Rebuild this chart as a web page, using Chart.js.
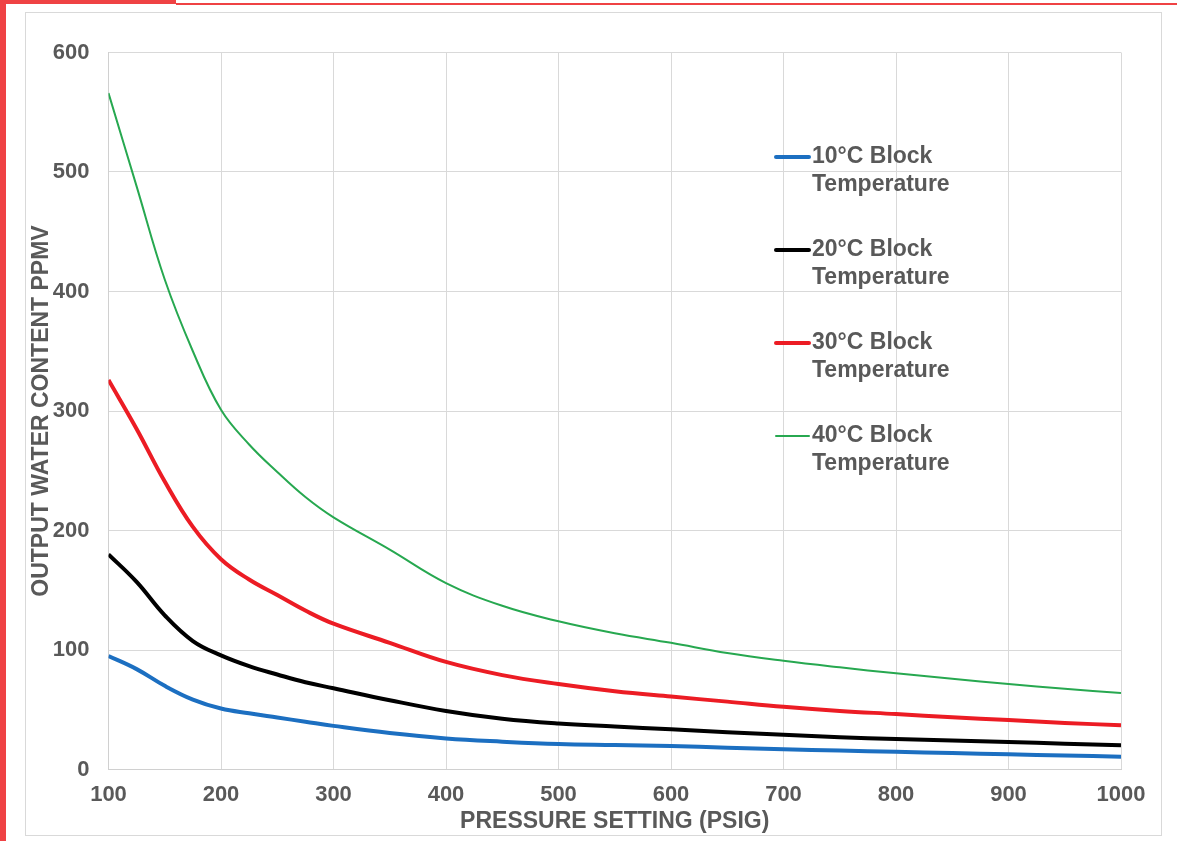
<!DOCTYPE html>
<html>
<head>
<meta charset="utf-8">
<script src="https://cdn.jsdelivr.net/npm/chart.js@4"></script>
<style>
  body { margin: 0; background: #fff; width: 1177px; height: 841px; position: relative; overflow: hidden; }
  .borda-esq { position: absolute; left: 0; top: 0; width: 6px; height: 841px; background: #ef4244; }
  .borda-topo { position: absolute; left: 0; top: 0; width: 176px; height: 4px; background: #ef4244; }
  .linha-topo { position: absolute; left: 176px; top: 3px; right: 0; height: 2px; background: #ef4244; }
  .caixa { position: absolute; left: 25px; top: 12px; width: 1135px; height: 822px; border: 1px solid #d9d9d9; background: #fff; }
  canvas { display: block; }
</style>
</head>
<body>
<div class="borda-esq"></div>
<div class="borda-topo"></div>
<div class="linha-topo"></div>
<div class="caixa"><canvas id="grafico" width="1135" height="822"></canvas></div>

<script>
// pressao (PSIG)
const pressao = [100, 125, 150, 175, 200, 225, 250, 275, 300, 350, 400, 450, 500, 550, 600, 650, 700, 750, 800, 850, 900, 950, 1000];

// agua na saida (PPMV) por temperatura do bloco
const bloco10 = [95, 84, 70, 58.5, 51, 47, 43.5, 40, 36.5, 30.5, 26, 23.3, 21.3, 20.5, 19.7, 18.3, 16.9, 15.8, 14.8, 13.8, 12.7, 11.7, 10.7];
const bloco20 = [180, 157, 129, 107.5, 95.5, 86.5, 79.5, 73, 68, 58, 49, 42.5, 38.5, 36, 33.6, 31.2, 29, 27, 25.5, 24.2, 23, 21.6, 20.2];
const bloco30 = [326, 285, 241, 203, 176, 159, 146, 133, 122, 106, 90, 79, 71.5, 65.5, 61, 56.8, 52.5, 49, 46.4, 43.7, 41.4, 39, 37];
const bloco40 = [566, 488, 410, 350, 301, 272, 249, 228, 211, 184, 156, 137, 124, 114, 106, 97.5, 91, 85.5, 80.5, 76, 71.5, 67.6, 64];

const rotulos = [
    ['10°C Block', 'Temperature'],
    ['20°C Block', 'Temperature'],
    ['30°C Block', 'Temperature'],
    ['40°C Block', 'Temperature']
];

const fonte = '"Liberation Sans", Arial, sans-serif';
const cinza = '#595959';

function pontos(valores) {
    return pressao.map((p, i) => ({ x: p, y: valores[i] }));
}

// legenda ao lado, com duas linhas por item
const legendaLateral = {
    id: 'legendaLateral',
    afterDatasetsDraw(chart) {
        const ctx = chart.ctx;
        ctx.save();
        ctx.font = 'bold 23px ' + fonte;
        ctx.fillStyle = cinza;
        ctx.textBaseline = 'middle';
        ctx.textAlign = 'left';
        chart.data.datasets.forEach((ds, i) => {
            const y = 144 + i * 93;
            ctx.strokeStyle = ds.borderColor;
            ctx.lineWidth = ds.borderWidth;
            ctx.lineCap = 'round';
            ctx.beginPath();
            ctx.moveTo(750, y);
            ctx.lineTo(783, y);
            ctx.stroke();
            rotulos[i].forEach((linha, j) => ctx.fillText(linha, 786, y + j * 27.5));
        });
        ctx.restore();
    }
};

const ctx = document.getElementById('grafico').getContext('2d');
const grafico = new Chart(ctx, {
    type: 'line',
    data: {
        datasets: [
            { label: rotulos[0].join(' '), data: pontos(bloco10), borderColor: '#1c6fc1', borderWidth: 4 },
            { label: rotulos[1].join(' '), data: pontos(bloco20), borderColor: '#000000', borderWidth: 4 },
            { label: rotulos[2].join(' '), data: pontos(bloco30), borderColor: '#ec1c24', borderWidth: 4 },
            { label: rotulos[3].join(' '), data: pontos(bloco40), borderColor: '#27a850', borderWidth: 2 }
        ]
    },
    options: {
        responsive: false,
        animation: false,
        devicePixelRatio: 1,
        layout: { padding: { top: 39.5, right: 40, bottom: 0, left: 0 } },
        elements: {
            point: { radius: 0 },
            line: { tension: 0.4, fill: false }
        },
        plugins: {
            legend: { display: false },
            tooltip: { enabled: false }
        },
        scales: {
            x: {
                type: 'linear',
                min: 100,
                max: 1000,
                ticks: {
                    stepSize: 100, padding: 12, color: cinza,
                    font: { family: fonte, size: 22, weight: 'bold' },
                    callback: v => String(v)
                },
                grid: { color: '#d9d9d9', drawTicks: false },
                border: { color: '#d0d0d0' },
                title: { display: true, text: 'PRESSURE SETTING (PSIG)', color: cinza, padding: 0, font: { family: fonte, size: 23, weight: 'bold' } },
                afterFit(scale) { scale.height = 65.5; }
            },
            y: {
                min: 0,
                max: 600,
                ticks: { stepSize: 100, padding: 19, color: cinza, font: { family: fonte, size: 22, weight: 'bold' } },
                grid: { color: '#d9d9d9', drawTicks: false },
                border: { color: '#d0d0d0' },
                title: { display: true, text: 'OUTPUT WATER CONTENT PPMV', color: cinza, padding: { top: 2, bottom: 0 }, font: { family: fonte, size: 23, weight: 'bold' } },
                afterFit(scale) { scale.width = 82.5; }
            }
        }
    },
    plugins: [legendaLateral]
});
</script>
</body>
</html>
